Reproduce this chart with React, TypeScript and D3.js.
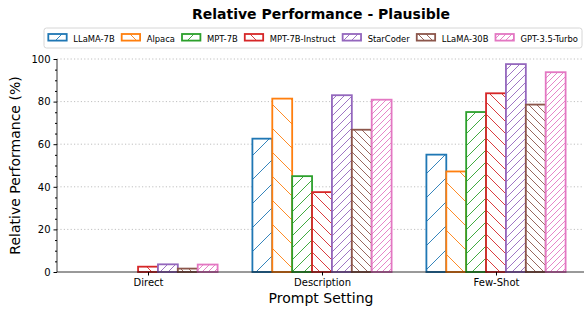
import { useEffect, useRef } from 'react';
import * as d3 from 'd3';

const settings = ['Direct', 'Description', 'Few-Shot'];
const models = ['LLaMA-7B', 'Alpaca', 'MPT-7B', 'MPT-7B-Instruct', 'StarCoder', 'LLaMA-30B', 'GPT-3.5-Turbo'];
const colors = ['#1f77b4', '#ff7f0e', '#2ca02c', '#d62728', '#9467bd', '#8c564b', '#e377c2'];
// matplotlib hatch strings per model
const hatches = ['/', '\\', '//', '\\\\', '///', '\\\\\\', '////'];

// values per model, ordered as settings
const llama7b = [0, 62.6, 55.1];
const alpaca = [0, 81.4, 47.2];
const mpt7b = [0, 45.0, 75.1];
const mpt7bInstruct = [2.5, 37.5, 83.9];
const starcoder = [3.6, 83.0, 97.6];
const llama30b = [1.6, 66.8, 78.6];
const gpt35 = [3.5, 80.9, 93.8];
const seriesValues = [llama7b, alpaca, mpt7b, mpt7bInstruct, starcoder, llama30b, gpt35];

const yTicks = [0, 20, 40, 60, 80, 100];

const W = 584;
const H = 309;
const FONT = 'DejaVu Sans, sans-serif';

const App = () => {
  const svgRef = useRef<SVGSVGElement>(null);

  useEffect(() => {
    if (!svgRef.current) return;
    const svg = d3.select(svgRef.current);
    svg.selectAll('*').remove();

    const left = 57, top = 59, bottom = 272;
    const x = d3.scaleLinear().domain([-0.523, 2.523]).range([left, 587]);
    const y = d3.scaleLinear().domain([0, 100]).range([bottom, top]);
    const barW = (0.8 / models.length) * (x(1) - x(0));

    // hatch patterns
    const defs = svg.append('defs');
    hatches.forEach((h, i) => {
      const n = h.length;
      const s = 24 / n;
      const p = defs.append('pattern')
        .attr('id', `hatch${i}`)
        .attr('patternUnits', 'userSpaceOnUse')
        .attr('width', s)
        .attr('height', s);
      p.append('rect').attr('width', s).attr('height', s).attr('fill', 'white');
      const d = h[0] === '/'
        ? `M0,${s} L${s},0 M${-s / 2},${s / 2} L${s / 2},${-s / 2} M${s / 2},${s * 1.5} L${s * 1.5},${s / 2}`
        : `M0,0 L${s},${s} M${-s / 2},${s / 2} L${s / 2},${s * 1.5} M${s / 2},${-s / 2} L${s * 1.5},${s / 2}`;
      p.append('path').attr('d', d).attr('stroke', colors[i]).attr('stroke-width', 0.9).attr('fill', 'none');
    });

    // grid
    svg.append('g').selectAll('line')
      .data(yTicks.filter(t => t > 0))
      .enter().append('line')
      .attr('x1', left).attr('x2', W)
      .attr('y1', d => y(d)).attr('y2', d => y(d))
      .attr('stroke', '#b0b0b0')
      .attr('stroke-width', 0.8)
      .attr('stroke-dasharray', '1.2,2.2');

    // bars
    seriesValues.forEach((vals, i) => {
      svg.append('g').selectAll('rect')
        .data(vals)
        .enter().append('rect')
        .attr('x', (d, j) => x(j) + (i - models.length / 2) * barW)
        .attr('y', d => y(d))
        .attr('width', barW)
        .attr('height', d => y(0) - y(d))
        .attr('fill', `url(#hatch${i})`)
        .attr('stroke', colors[i])
        .attr('stroke-width', 1.8);
    });

    // axes
    const yAxis = svg.append('g').attr('transform', `translate(${left},0)`);
    yAxis.call(d3.axisLeft(y).tickValues(yTicks).tickSize(3.5).tickPadding(3).tickFormat(d3.format('d')));
    yAxis.selectAll('text').style('font-family', FONT).style('font-size', '10px').attr('fill', '#000');
    yAxis.select('.domain').remove();
    svg.append('g').attr('transform', `translate(${left},0)`)
      .call(d3.axisLeft(y).tickValues(d3.range(0, 101, 5).filter(t => t % 20 !== 0)).tickSize(2).tickFormat(() => ''))
      .select('.domain').remove();
    svg.append('line')
      .attr('x1', left).attr('x2', left).attr('y1', top).attr('y2', bottom)
      .attr('stroke', '#000').attr('stroke-width', 0.8);

    const xAxis = svg.append('g').attr('transform', `translate(0,${bottom})`);
    xAxis.call(d3.axisBottom(x).tickValues([0, 1, 2]).tickSize(3.5).tickPadding(3).tickFormat((d) => settings[d as number]));
    xAxis.selectAll('text').style('font-family', FONT).style('font-size', '10px').attr('fill', '#000');
    xAxis.select('.domain').remove();
    svg.append('line')
      .attr('x1', left).attr('x2', W).attr('y1', bottom).attr('y2', bottom)
      .attr('stroke', '#000').attr('stroke-width', 0.8);

    // labels
    svg.append('text')
      .attr('x', 321).attr('y', 19)
      .attr('text-anchor', 'middle')
      .style('font-family', FONT).style('font-size', '14px').style('font-weight', 'bold')
      .text('Relative Performance - Plausible');
    svg.append('text')
      .attr('x', 321).attr('y', 303)
      .attr('text-anchor', 'middle')
      .style('font-family', FONT).style('font-size', '14px')
      .text('Prompt Setting');
    svg.append('text')
      .attr('transform', `translate(20,${(top + bottom) / 2}) rotate(-90)`)
      .attr('text-anchor', 'middle')
      .style('font-family', FONT).style('font-size', '14px')
      .text('Relative Performance (%)');

    // legend
    const legend = svg.append('g');
    legend.append('rect')
      .attr('x', 44).attr('y', 28).attr('width', 538).attr('height', 20).attr('rx', 2.5)
      .attr('fill', 'white').attr('fill-opacity', 0.8)
      .attr('stroke', '#cccccc').attr('stroke-width', 0.8);
    const items = legend.selectAll('g.item')
      .data(models)
      .enter().append('g').attr('class', 'item');
    const texts = items.append('text')
      .attr('y', 41.5)
      .style('font-family', FONT).style('font-size', '8.4px')
      .text(d => d);
    const widths: number[] = [];
    texts.each(function () { widths.push((this as SVGTextElement).getComputedTextLength()); });
    const handle = 18.4, pad = 6.6, start = 48.3, end = 578;
    const sumW = d3.sum(widths) + models.length * (handle + pad);
    const gap = (end - start - sumW) / (models.length - 1);
    let cx = start;
    items.each(function (d, i) {
      const g = d3.select(this);
      g.insert('rect', 'text')
        .attr('x', cx).attr('y', 34).attr('width', handle).attr('height', 6.6)
        .attr('fill', `url(#hatch${i})`)
        .attr('stroke', colors[i]).attr('stroke-width', 1.8);
      g.select('text').attr('x', cx + handle + pad);
      cx += handle + pad + widths[i] + gap;
    });
  }, []);

  return (
    <div style={{ width: W, height: H }}>
      <svg ref={svgRef} width={W} height={H} style={{ position: 'absolute', left: 0, top: 0 }}></svg>
    </div>
  );
};

export default App;
